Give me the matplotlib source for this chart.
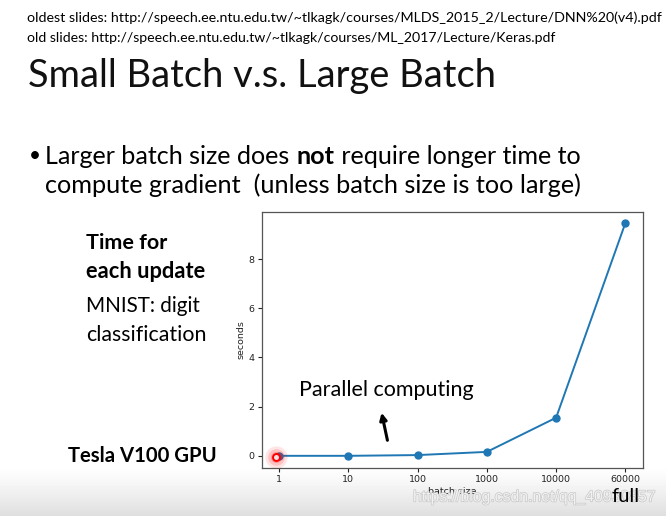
import numpy as np
import matplotlib
matplotlib.use("Agg")
import matplotlib.pyplot as plt
import matplotlib.patheffects as pe

# ---- data ----
batch_labels = ["1", "10", "100", "1000", "10000", "60000"]
seconds = [0.0, 0.0, 0.03, 0.16, 1.55, 9.47]
y_ticks = [0, 2, 4, 6, 8]

url_oldest = "oldest slides: http://speech.ee.ntu.edu.tw/~tlkagk/courses/MLDS_2015_2/Lecture/DNN%20(v4).pdf"
url_old = "old slides: http://speech.ee.ntu.edu.tw/~tlkagk/courses/ML_2017/Lecture/Keras.pdf"
title = "Small Batch v.s. Large Batch"

W, H = 666, 516
fig = plt.figure(figsize=(W / 100, H / 100), dpi=100)
fig.patch.set_facecolor("white")

# bottom gradient (video frame shading)
bg = fig.add_axes([0, 0, 1, 1], zorder=-10)
grad = np.ones((H, 1))
rows = np.arange(H)
start = 466
t = np.clip((rows - start) / (H - start), 0, 1)
grad[:, 0] = 1.0 - 0.13 * t ** 1.2
bg.imshow(grad, aspect="auto", cmap="gray", vmin=0, vmax=1, extent=[0, W, H, 0])
bg.set_xlim(0, W)
bg.set_ylim(H, 0)
bg.axis("off")

FONT = "Lato"
fig.canvas.draw()
renderer = fig.canvas.get_renderer()


def text_width(s, fs, weight="normal", family=FONT):
    tt = fig.text(0, 0, s, fontsize=fs, fontweight=weight, family=family)
    w = tt.get_window_extent(renderer).width
    tt.remove()
    return w


def adv(s, fs, weight, family):
    # advance width including spaces
    return text_width(s + "|", fs, weight, family) - text_width("|", fs, weight, family)


def fit_runs(runs, x0, x1, yc, family=FONT, color="black"):
    ref = 20.0
    acc = 0.0
    offs = []
    for s, w in runs:
        offs.append(acc)
        acc += adv(s, ref, w, family)
    fs = ref * (x1 - x0) / acc
    scale = fs / ref
    for (s, w), o in zip(runs, offs):
        fig.text((x0 + o * scale) / W, 1 - yc / H, s, fontsize=fs, fontweight=w,
                 family=family, color=color, ha="left", va="center")
    return fs


def fit(s, x0, x1, yc, weight="normal", family=FONT, color="black"):
    ref = 20.0
    w = text_width(s, ref, weight, family)
    fs = ref * (x1 - x0) / w
    t = fig.text(x0 / W, 1 - yc / H, s, fontsize=fs, fontweight=weight, family=family,
                 color=color, ha="left", va="center")
    return t

# header lines
fit(url_oldest, 27, 662, 18)
fit(url_old, 27, 557, 38)
fit(title, 28, 497, 76, weight="normal", color="#111111")

# bullet
fig.text(29 / W, 1 - 156 / H, "•", fontsize=15, family=FONT, ha="left", va="center")
fit_runs([("Larger batch size does ", "normal"), ("not", "bold"),
          (" require longer time to", "normal")], 45, 582, 157)
fit("compute gradient  (unless batch size is too large)", 45, 583, 185)

# left side texts
fit("Time for", 86, 167, 243, weight="bold")
fit("each update", 86, 205, 272, weight="bold")
fit("MNIST: digit", 86, 200, 306)
fit("classification", 86, 206, 335)
fit("Tesla V100 GPU", 68, 217, 456, weight="bold")

# ---- chart ----
ax = fig.add_axes([261.7 / W, 1 - 467.5 / H, (642.7 - 261.7) / W, (467.5 - 211.7) / H])
ax.set_facecolor("none")
xs = np.arange(len(batch_labels))
ax.plot(xs, seconds, "-o", color="#1f77b4", lw=1.4, ms=5)

# cursor highlight at first point
for r, a in [(16, 0.10), (12, 0.15), (8, 0.22)]:
    ax.plot(xs[0] - 0.05, seconds[0] - 0.05, "o", ms=r, color="red", alpha=a, mec="none", zorder=5)
ax.plot(xs[0] - 0.05, seconds[0] - 0.05, "o", ms=5, mfc="#ffe0e0", mec="red", mew=1.4, zorder=6)

ax.set_xticks(xs)
ax.set_xticklabels(batch_labels)
ax.set_yticks(y_ticks)
ax.set_xlim(-0.25, 5.25)
ax.set_ylim(-0.475, 9.93)
ax.tick_params(labelsize=6.8, colors="#222222", length=3, width=0.8, pad=2.5)
for sp in ax.spines.values():
    sp.set_color("#555555")
    sp.set_linewidth(0.9)
ax.set_xlabel("batch size", fontsize=6.8, color="#222222", labelpad=2)
ax.set_ylabel("seconds", fontsize=6.8, color="#222222", labelpad=2)

# annotation
fit("Parallel computing", 299, 474, 390)
ax.annotate("", xy=((381 - 261.7) / (642.7 - 261.7), (467.5 - 410) / (467.5 - 211.7)),
            xytext=((388 - 261.7) / (642.7 - 261.7), (467.5 - 443) / (467.5 - 211.7)),
            xycoords="axes fraction", textcoords="axes fraction",
            arrowprops=dict(arrowstyle="-|>", color="black", lw=2.2, mutation_scale=10))

# watermark + "full"
wm = fit("https://blog.csdn.net/qq_40930857", 413, 655, 497, family="Liberation Sans",
         color="#f6f6f6")
wm.set_path_effects([pe.withStroke(linewidth=1.0, foreground="#c4c4c4")])
wm.set_alpha(0.9)
fit("full", 612, 640, 496)

fig.savefig("out.png", dpi=100)
